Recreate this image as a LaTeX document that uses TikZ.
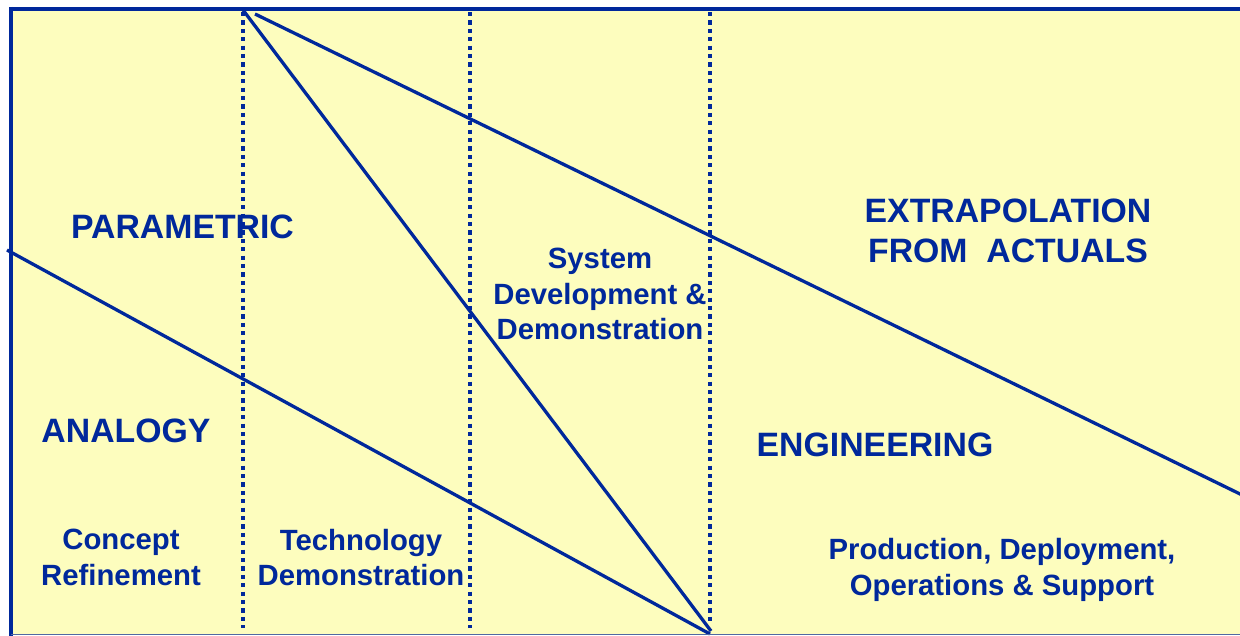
\documentclass[tikz,border=0pt]{standalone}
\usepackage{fontspec}
\setmainfont{Liberation Sans}
\definecolor{navy}{RGB}{0,40,155}
\definecolor{pale}{RGB}{253,253,190}
\definecolor{rim}{RGB}{80,105,160}

\begin{document}
\begin{tikzpicture}[x=1pt,y=-1pt,
  phaseline/.style={draw=navy, line width=3.8pt, dash pattern=on 4.2pt off 4.2pt},
  diag/.style={draw=navy, line width=3.3pt},
  frameline/.style={draw=navy, line width=4pt},
  bigtxt/.style={text=navy, font=\bfseries\fontsize{33.8}{40}\selectfont, inner sep=0pt, align=center},
  smalltxt/.style={text=navy, font=\bfseries\fontsize{29.3}{35.5}\selectfont, inner sep=0pt, align=center, anchor=north}]

  % page and chart area
  \fill[white] (0,0) rectangle (1240,636);
  \useasboundingbox (0,0) rectangle (1240,636);
  \clip (0,0) rectangle (1240,636);
  \fill[pale] (11,9) rectangle (1240,634);

  % phase boundaries
  \coordinate (p1t) at (243,12);  \coordinate (p1b) at (243,628);
  \coordinate (p2t) at (470,12);  \coordinate (p2b) at (470,628);
  \coordinate (p3t) at (710,12);  \coordinate (p3b) at (710,622);
  \draw[phaseline] (p1t) -- (p1b);
  \draw[phaseline] (p2t) -- (p2b);
  \draw[phaseline] (p3t) -- (p3b);

  % method boundaries
  \coordinate (a1) at (243,10);   \coordinate (b1) at (711,631);
  \coordinate (a2) at (255,14);   \coordinate (b2) at (1245,496.4);
  \coordinate (a3) at (7,250);    \coordinate (b3) at (710,634);
  \draw[diag] (a1) -- (b1);
  \draw[diag] (a2) -- (b2);
  \draw[diag] (a3) -- (b3);

  % frame
  \draw[frameline] (9,9) -- (1240,9);
  \draw[frameline] (11.3,7) -- (11.3,636);
  \draw[rim, line width=1.5pt] (11,634.6) -- (1240,634.6);

  % method labels
  \node[bigtxt, anchor=base] (param) at (182.5,239) {PARAMETRIC};
  \node[bigtxt, anchor=north] (extra) at (1008,198.5) {EXTRAPOLATION\\FROM\ \ ACTUALS};
  \node[bigtxt, anchor=base] (analogy) at (126,442) {ANALOGY};
  \node[bigtxt, anchor=base] (engin) at (875,456) {ENGINEERING};

  % phase labels
  \node[smalltxt] (sdd) at (600,248) {System\\Development \&\\Demonstration};
  \node[smalltxt] (cr) at (121,529) {Concept\\Refinement};
  \node[smalltxt] (td) at (361,529) {Technology\\Demonstration};
  \node[smalltxt] (pdos) at (1002,538.5) {Production, Deployment,\\Operations \& Support};
\end{tikzpicture}
\end{document}
